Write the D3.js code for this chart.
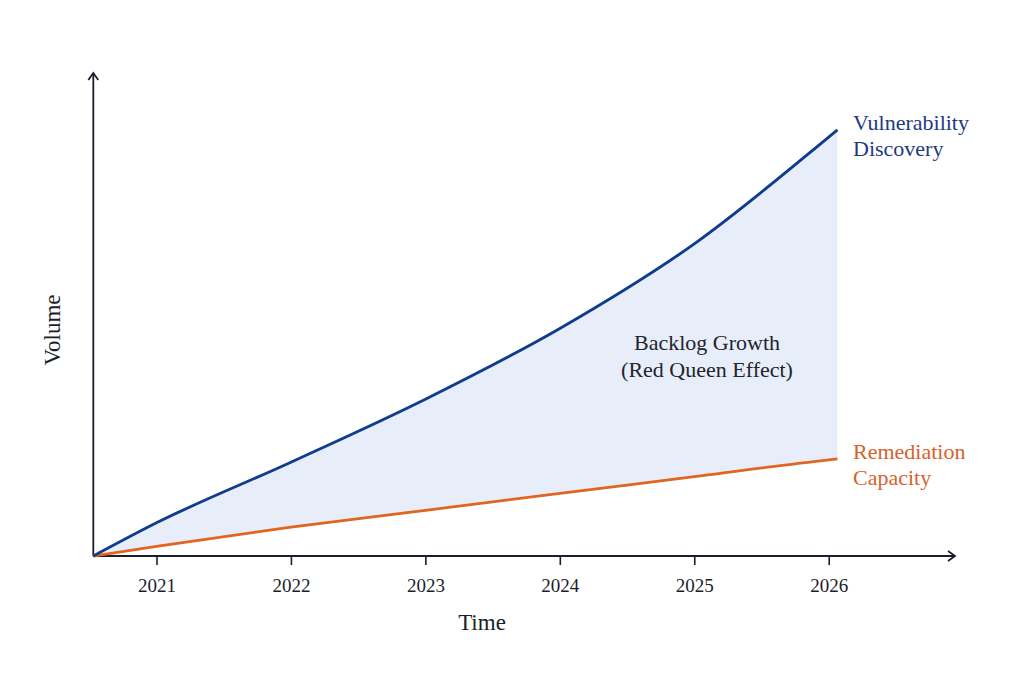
<!DOCTYPE html>
<html>
<head>
<meta charset="utf-8">
<script src="https://cdn.jsdelivr.net/npm/d3@7"></script>
<style>
  html, body { margin: 0; padding: 0; background: #fff; }
  svg text { font-family: "Liberation Serif", "DejaVu Serif", serif; }
</style>
</head>
<body>
<div id="chart"></div>
<script>
// data (volume is unitless, 0..100 along the y axis)
const years = [2020.53, 2021, 2022, 2023, 2024, 2025, 2026, 2026.065];
const discovery = [0, 6.9, 19.5, 32.6, 47.3, 64.9, 87.1, 88.6];
const remediation = [0, 2.0, 6.0, 9.5, 13.0, 16.5, 20.0, 20.2];
const tickYears = [2021, 2022, 2023, 2024, 2025, 2026];
const seriesLabels = [
  { lines: ["Vulnerability", "Discovery"], key: "discovery" },
  { lines: ["Remediation", "Capacity"], key: "remediation" }
];
const gapLabel = ["Backlog Growth", "(Red Queen Effect)"];

const width = 1024, height = 682;
const blue = "#0f3c8c", orange = "#e0651f", ink = "#1b1e2b";

const svg = d3.select("#chart").append("svg")
  .attr("width", width)
  .attr("height", height);

svg.append("rect").attr("width", width).attr("height", height).attr("fill", "#fff");

const x = d3.scaleLinear().domain([2021, 2026]).range([156.5, 828.7]);
const y = d3.scaleLinear().domain([0, 100]).range([556, 75]);

const rows = years.map((yr, i) => ({ yr, d: discovery[i], r: remediation[i] }));

// shaded backlog between the two curves
const area = d3.area()
  .curve(d3.curveMonotoneX)
  .x(d => x(d.yr))
  .y0(d => y(d.r))
  .y1(d => y(d.d));

svg.append("path")
  .datum(rows)
  .attr("d", area)
  .attr("fill", "#e7eef9");

// axes with open arrow heads
const defs = svg.append("defs");
defs.append("marker")
  .attr("id", "arrow")
  .attr("viewBox", "0 0 12 12")
  .attr("refX", 10).attr("refY", 6)
  .attr("markerWidth", 12).attr("markerHeight", 12)
  .attr("markerUnits", "userSpaceOnUse")
  .attr("orient", "auto")
  .append("path")
  .attr("d", "M3,1 L10,6 L3,11")
  .attr("fill", "none")
  .attr("stroke", ink)
  .attr("stroke-width", 1.8);

const x0 = x(years[0]);
svg.append("line")
  .attr("x1", x0).attr("y1", y(0))
  .attr("x2", 955).attr("y2", y(0))
  .attr("stroke", ink).attr("stroke-width", 1.8)
  .attr("marker-end", "url(#arrow)");

svg.append("line")
  .attr("x1", x0).attr("y1", y(0))
  .attr("x2", x0).attr("y2", 73)
  .attr("stroke", ink).attr("stroke-width", 1.8)
  .attr("marker-end", "url(#arrow)");

const xAxis = d3.axisBottom(x)
  .tickValues(tickYears)
  .tickFormat(d3.format("d"))
  .tickSize(9)
  .tickPadding(14);

const gx = svg.append("g")
  .attr("transform", `translate(0,${y(0)})`)
  .call(xAxis);
gx.select(".domain").remove();
gx.selectAll(".tick line").attr("stroke", ink).attr("stroke-width", 1.6);
gx.selectAll(".tick text")
  .attr("fill", ink)
  .style("font-family", '"Liberation Serif", serif')
  .style("font-size", "19px");

svg.append("text")
  .attr("x", 482).attr("y", 630)
  .attr("text-anchor", "middle")
  .attr("fill", ink)
  .style("font-size", "23px")
  .text("Time");

svg.append("text")
  .attr("transform", "translate(60,330) rotate(-90)")
  .attr("text-anchor", "middle")
  .attr("fill", ink)
  .style("font-size", "23px")
  .text("Volume");

// the two curves
const line = key => d3.line()
  .curve(d3.curveMonotoneX)
  .x(d => x(d.yr))
  .y(d => y(d[key]));

svg.append("path")
  .datum(rows)
  .attr("d", line("r"))
  .attr("fill", "none")
  .attr("stroke", orange)
  .attr("stroke-width", 2.8);

svg.append("path")
  .datum(rows)
  .attr("d", line("d"))
  .attr("fill", "none")
  .attr("stroke", blue)
  .attr("stroke-width", 2.9);

// end labels
const last = rows[rows.length - 1];
const labelColors = { discovery: "#1d3a80", remediation: "#d8622a" };
seriesLabels.forEach(lab => {
  const endY = y(lab.key === "discovery" ? last.d : last.r);
  const t = svg.append("text")
    .attr("x", 853)
    .attr("y", endY)
    .attr("fill", labelColors[lab.key])
    .style("font-size", "22px");
  lab.lines.forEach((s, i) => {
    t.append("tspan")
      .attr("x", 853)
      .attr("dy", i === 0 ? 0 : 26.5)
      .text(s);
  });
});

// annotation inside the gap
const note = svg.append("text")
  .attr("x", 707).attr("y", 350)
  .attr("text-anchor", "middle")
  .attr("fill", "#22242e")
  .style("font-size", "22px");
gapLabel.forEach((s, i) => {
  note.append("tspan")
    .attr("x", 707)
    .attr("dy", i === 0 ? 0 : 27)
    .text(s);
});
</script>
</body>
</html>
